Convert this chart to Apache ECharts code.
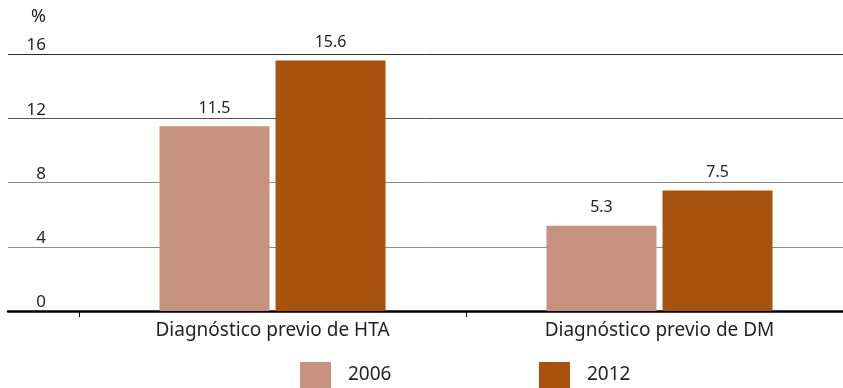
<!DOCTYPE html>
<html>
<head>
<meta charset="utf-8">
<script src="https://cdn.jsdelivr.net/npm/echarts@6/dist/echarts.min.js"></script>
<style>
  html, body { margin: 0; padding: 0; background: #fff; }
  #chart { width: 843px; height: 388px; }
</style>
</head>
<body>
<div id="chart"></div>
<script>
// Categories and yearly values (%)
const categories = ['Diagnóstico previo de HTA', 'Diagnóstico previo de DM'];
const years = ['2006', '2012'];
const values2006 = [11.5, 5.3];
const values2012 = [15.6, 7.5];
const yTicks = { min: 0, max: 16, interval: 4 };

const FONT = 'Noto Sans';
const TEXT = '#231f20';
const COLORS = ['#c6927d', '#a8520f'];

const chart = echarts.init(document.getElementById('chart'), null, { renderer: 'canvas' });

const barLabel = {
  show: true,
  position: 'top',
  distance: 10,
  color: TEXT,
  fontFamily: FONT,
  fontSize: 16
};

const legendBase = {
  top: 362,
  padding: 0,
  itemWidth: 31, itemHeight: 26,
  icon: 'rect',
  textStyle: { color: TEXT, fontFamily: FONT, fontSize: 19, padding: [0, 0, 0, 12] }
};

chart.setOption({
  animation: false,
  title: {
    text: '%',
    left: 31,
    top: 8,
    padding: 0,
    textStyle: { color: TEXT, fontFamily: FONT, fontSize: 18, fontWeight: 'normal' }
  },
  legend: [
    Object.assign({ data: [years[0]], left: 300 }, legendBase),
    Object.assign({ data: [years[1]], left: 539 }, legendBase)
  ],
  grid: [
    // frame: gridlines and baseline across the full width
    { left: 8, right: 0, top: 54, bottom: 77 },
    // bars: two categories of equal width, the second running past the right edge
    { left: 79, width: 774, top: 54, bottom: 77, outerBoundsMode: 'none', containLabel: false }
  ],
  xAxis: [
    {
      gridIndex: 0,
      type: 'value', min: 0, max: 1,
      axisLine: { show: true, lineStyle: { color: '#000', width: 2.5 } },
      axisTick: { show: false },
      axisLabel: { show: false },
      splitLine: { show: false }
    },
    {
      gridIndex: 1,
      type: 'category',
      data: categories,
      axisLine: { show: false },
      axisTick: { show: true, length: 6, lineStyle: { color: '#000', width: 1 } },
      axisLabel: { margin: 10, color: TEXT, fontFamily: FONT, fontSize: 19 }
    }
  ],
  yAxis: [
    {
      gridIndex: 0,
      type: 'value',
      min: yTicks.min, max: yTicks.max, interval: yTicks.interval,
      axisLine: { show: false },
      axisTick: { show: false },
      axisLabel: {
        inside: true,
        align: 'right',
        verticalAlign: 'bottom',
        margin: 38,
        padding: [0, 0, 0, 0],
        color: TEXT, fontFamily: FONT, fontSize: 17
      },
      splitLine: {
        show: true,
        lineStyle: { color: ['#000', '#8a8a8a', '#8a8a8a', '#555', '#2a2a2a'], width: 1 }
      }
    },
    {
      gridIndex: 1,
      type: 'value',
      min: yTicks.min, max: yTicks.max, interval: yTicks.interval,
      show: false
    }
  ],
  series: [
    {
      name: years[0], type: 'bar',
      xAxisIndex: 1, yAxisIndex: 1,
      data: values2006,
      barWidth: 110, barGap: '5.5%',
      itemStyle: { color: COLORS[0] },
      label: barLabel
    },
    {
      name: years[1], type: 'bar',
      xAxisIndex: 1, yAxisIndex: 1,
      data: values2012,
      barWidth: 110, barGap: '5.5%',
      itemStyle: { color: COLORS[1] },
      label: barLabel
    }
  ]
});
</script>
</body>
</html>
